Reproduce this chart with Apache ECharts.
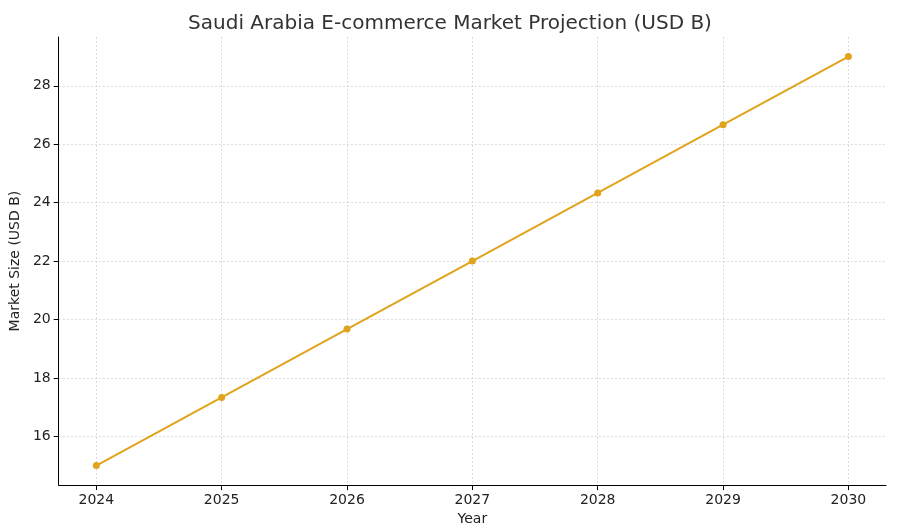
<!DOCTYPE html>
<html><head><meta charset="utf-8">
<script src="https://cdn.jsdelivr.net/npm/echarts@6/dist/echarts.min.js"></script>
<style>html,body{margin:0;padding:0;background:#fff}#c{width:900px;height:531px}</style>
</head><body><div id="c"></div>
<script>
const years = [2024, 2025, 2026, 2027, 2028, 2029, 2030];
const marketSize = [15.0, 17.33, 19.67, 22.0, 24.33, 26.67, 29.0];
const yTicks = [16, 18, 20, 22, 24, 26, 28];
const chart = echarts.init(document.getElementById('c'));
const font = 'DejaVu Sans';
const grid = { show: true, lineStyle: { type: [2, 2], color: '#d4d4d4', width: 0.8 } };
chart.setOption({
  animation: false,
  title: { text: 'Saudi Arabia E-commerce Market Projection (USD B)', left: 'center', top: 9,
    textStyle: { fontFamily: font, fontSize: 20, fontWeight: 'normal', color: '#333' } },
  grid: { left: 57, right: 14, top: 37, bottom: 44 },
  xAxis: { type: 'value', min: 2023.7, max: 2030.3, name: 'Year', nameLocation: 'middle', nameGap: 26,
    nameTextStyle: { fontFamily: font, fontSize: 14, color: '#222' },
    axisLine: { lineStyle: { color: '#000' } },
    axisTick: { customValues: years, lineStyle: { color: '#000' } },
    axisLabel: { customValues: years, fontFamily: font, fontSize: 14, color: '#222', formatter: v => String(v) },
    splitLine: grid },
  yAxis: { type: 'value', min: 14.33, max: 29.67, name: 'Market Size (USD B)', nameLocation: 'middle', nameGap: 35,
    nameTextStyle: { fontFamily: font, fontSize: 14, color: '#222' },
    axisLine: { show: true, lineStyle: { color: '#000' } },
    axisTick: { show: true, customValues: yTicks, lineStyle: { color: '#000' } },
    axisLabel: { customValues: yTicks, fontFamily: font, fontSize: 14, color: '#222' },
    splitLine: grid },
  series: [{ type: 'line', data: years.map((y, i) => [y, marketSize[i]]),
    symbol: 'circle', symbolSize: 7, lineStyle: { color: '#e0a31c', width: 2 },
    itemStyle: { color: '#e0a31c' } }]
});
</script></body></html>
